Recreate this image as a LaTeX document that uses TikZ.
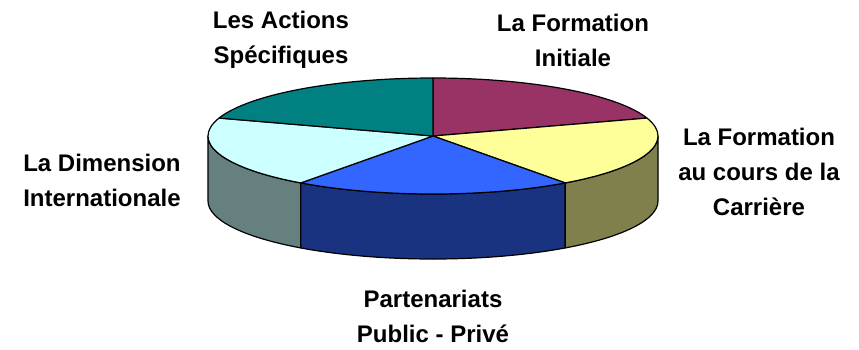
\documentclass[tikz,border=0pt]{standalone}
\usepackage{fontspec}
\setmainfont{Liberation Sans}
\usepackage{tikz}
\usetikzlibrary{positioning}
\definecolor{slicepurple}{HTML}{993366}
\definecolor{sliceyellow}{HTML}{FFFF99}
\definecolor{sliceblue}{HTML}{3366FF}
\definecolor{slicecyan}{HTML}{CCFFFF}
\definecolor{sliceteal}{HTML}{008080}
\definecolor{sideyellow}{HTML}{80804D}
\definecolor{sideblue}{HTML}{1A3380}
\definecolor{sidecyan}{HTML}{668080}
\tikzset{pie label/.style={font=\bfseries\fontsize{24}{35}\selectfont,align=center,inner sep=0pt},
         pie part/.style={draw=black,line width=1.2pt,line join=round},
            }
% top of one slice: start angle, end angle, colour
\newcommand{\slicetop}[3]{\filldraw[pie part,fill=#3] (0,0) -- (#1:225 and 58)
   arc[start angle=#1,end angle=#2,x radius=225,y radius=58] -- cycle;}
% visible rim of one slice
\newcommand{\sliceside}[3]{\filldraw[pie part,fill=#3] (#1:225 and 58)
   arc[start angle=#1,end angle=#2,x radius=225,y radius=58] -- ++(0,-65)
   arc[start angle=#2,end angle=#1,x radius=225,y radius=58] -- cycle;}

\begin{document}
\begin{tikzpicture}[x=1pt,y=1pt]
        \useasboundingbox (-433,136) rectangle (426,-213);

        \sliceside{180}{234}{sidecyan}
        \sliceside{234}{306}{sideblue}
        \sliceside{306}{360}{sideyellow}

        \slicetop{90}{18}{slicepurple}
        \slicetop{18}{-54}{sliceyellow}
        \slicetop{-54}{-126}{sliceblue}
        \slicetop{-126}{-198}{slicecyan}
        \slicetop{162}{90}{sliceteal}

        \node[pie label] (1) at (-152,96) {Les Actions\\Spécifiques};
        \node[pie label] (2) at (140,96) {La Formation\\Initiale};
        \node[pie label] (3) at (326,-36) {La Formation\\au cours de la\\Carrière};
        \node[pie label] (4) at (-331,-44) {La Dimension\\Internationale};
        \node[pie label] (5) at (0,-180) {Partenariats\\Public - Privé};
      \end{tikzpicture}
\end{document}
